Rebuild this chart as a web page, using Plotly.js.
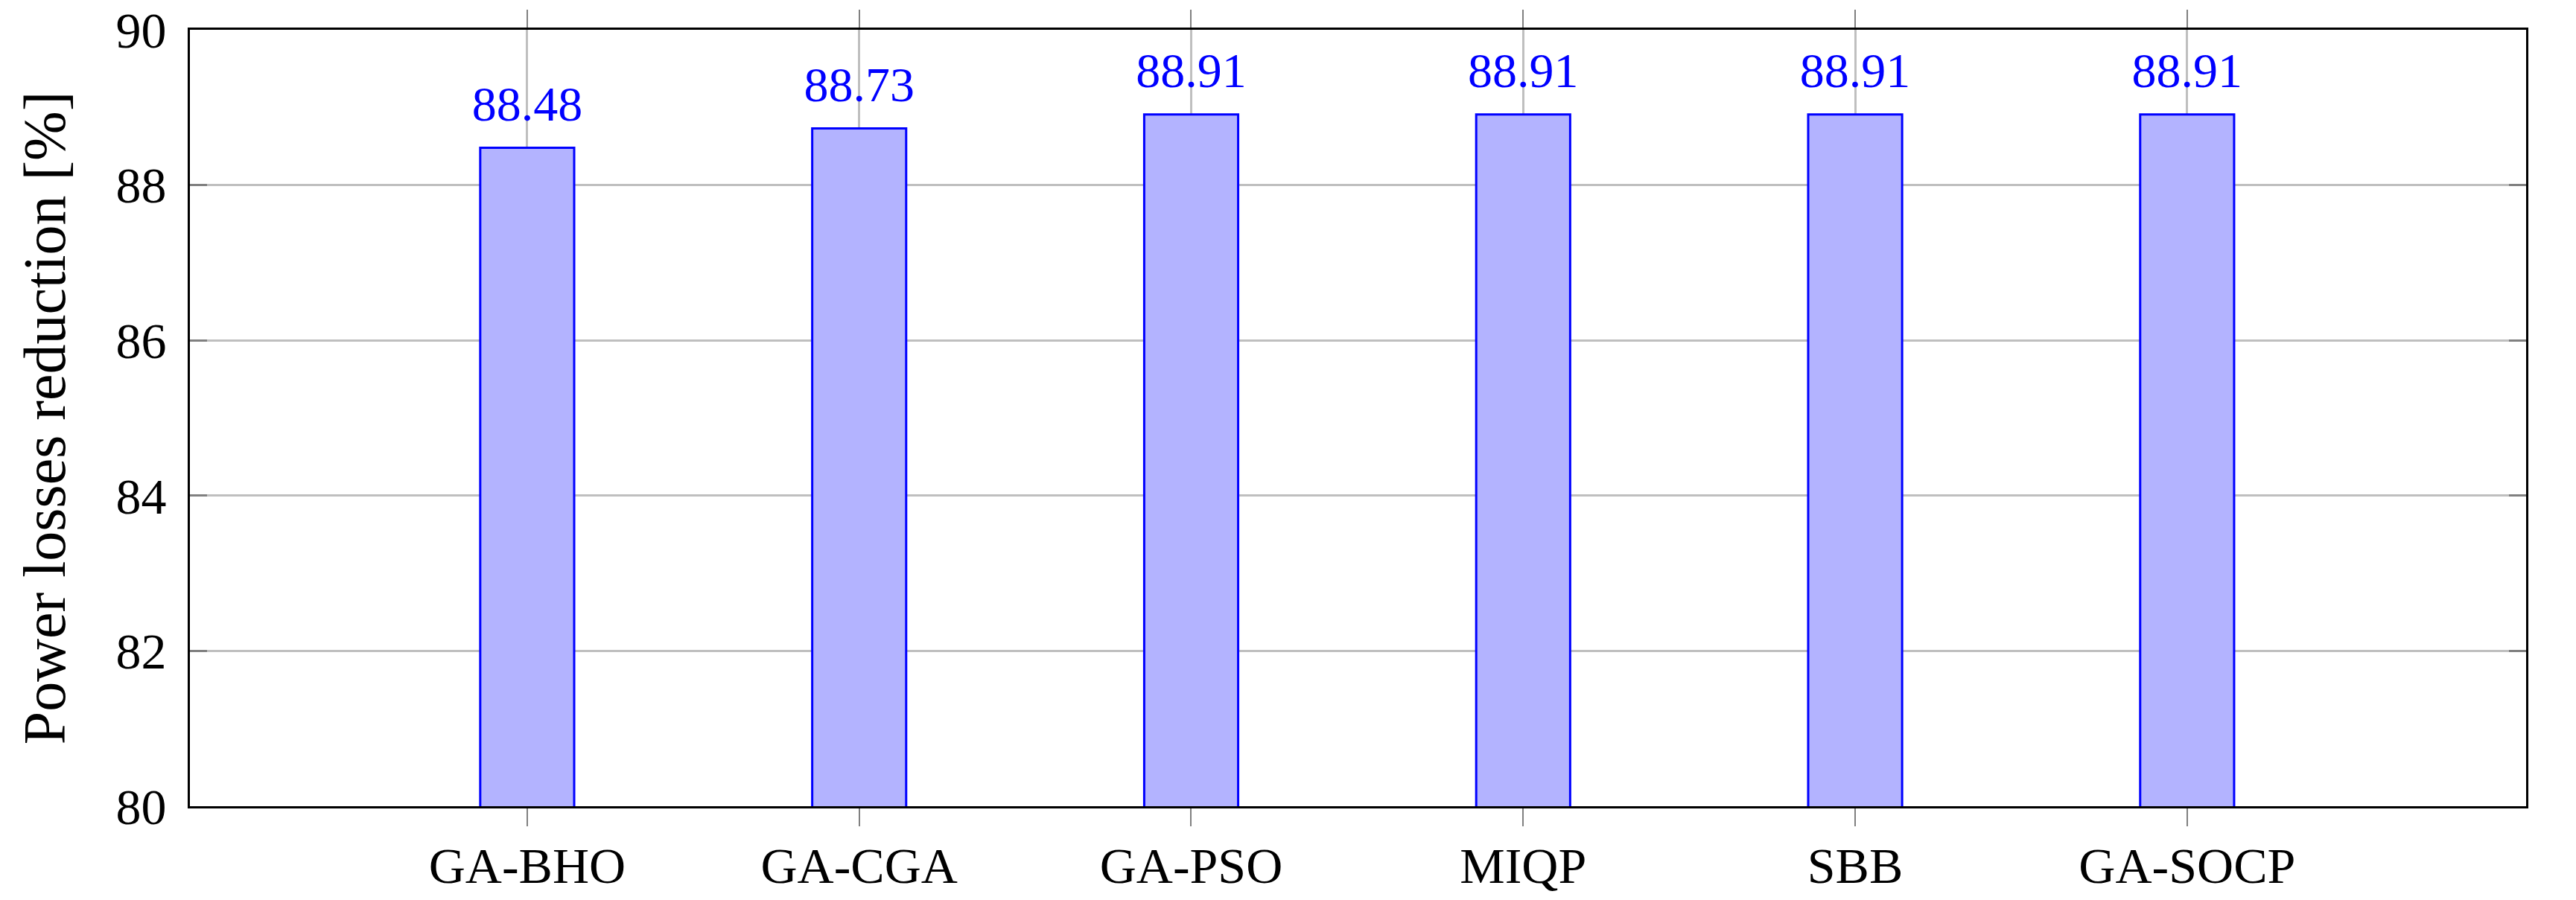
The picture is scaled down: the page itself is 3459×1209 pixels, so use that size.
<!DOCTYPE html>
<html>
<head>
<meta charset="utf-8">
<script src="https://cdn.plot.ly/plotly-3.0.1.min.js"></script>
<style>html,body{margin:0;padding:0;background:#fff;}#chart{width:3459px;height:1209px;}</style>
</head>
<body>
<div id="chart"></div>
<script>
const methods = ["GA-BHO", "GA-CGA", "GA-PSO", "MIQP", "SBB", "GA-SOCP"];
const reduction = [88.48, 88.73, 88.91, 88.91, 88.91, 88.91];
const yTicks = [80, 82, 84, 86, 88, 90];
const yTitle = "Power losses reduction [%]";

const FONT = "Liberation Serif, Times New Roman, serif";

const bars = {
  type: "bar",
  x: methods,
  y: reduction,
  width: 0.283,
  marker: { color: "#b3b3ff", line: { color: "#0000ff", width: 3 } },
  hoverinfo: "none"
};

const labels = {
  type: "scatter",
  mode: "markers+text",
  x: methods,
  y: reduction,
  text: reduction.map(v => v.toFixed(2)),
  textposition: "top center",
  marker: { size: 30, color: "rgba(0,0,0,0)" },
  textfont: { family: FONT, size: 66, color: "#0000ff" },
  cliponaxis: false,
  hoverinfo: "none"
};

const layout = {
  width: 3459,
  height: 1209,
  margin: { l: 255, r: 67, t: 40, b: 126, pad: 0 },
  paper_bgcolor: "#ffffff",
  plot_bgcolor: "#ffffff",
  showlegend: false,
  font: { family: FONT, color: "#000000", size: 67 },
  xaxis: {
    type: "category",
    range: [-1.016, 6.021],
    showline: true, linecolor: "#000000", linewidth: 3, mirror: "ticks",
    ticks: "outside", ticklen: 24, tickwidth: 2, tickcolor: "#808080",
    showgrid: true, gridcolor: "#bfbfbf", gridwidth: 3,
    tickfont: { family: FONT, size: 68, color: "#000000" },
    ticklabelstandoff: -6,
    zeroline: false, automargin: false, fixedrange: true
  },
  yaxis: {
    range: [80, 90],
    tickmode: "array", tickvals: yTicks, ticktext: yTicks.map(String),
    showline: true, linecolor: "#000000", linewidth: 3, mirror: "ticks",
    ticks: "inside", ticklen: 23, tickwidth: 3, tickcolor: "#808080",
    showgrid: true, gridcolor: "#bfbfbf", gridwidth: 3,
    tickfont: { family: FONT, size: 68, color: "#000000" },
    ticklabelstandoff: 15,
    title: { text: yTitle, font: { family: FONT, size: 80, color: "#000000" }, standoff: 42 },
    zeroline: false, automargin: false, fixedrange: true
  },
  bargap: 0
};

Plotly.newPlot("chart", [bars, labels], layout, { staticPlot: true, displayModeBar: false });
</script>
</body>
</html>
